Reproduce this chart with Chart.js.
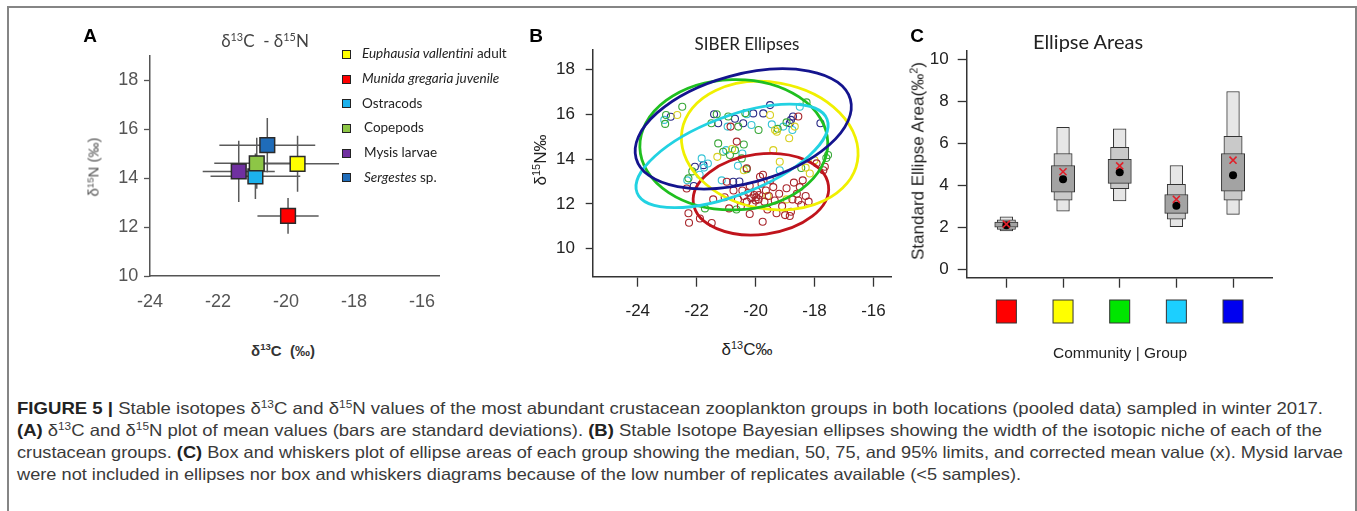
<!DOCTYPE html>
<html lang="en">
<head>
<meta charset="UTF-8">
<title>Figure 5 - stable isotopes of crustacean zooplankton</title>
<script src="https://cdn.jsdelivr.net/npm/chart.js"></script>
<style>
  html, body { margin: 0; padding: 0; background: #fff; }
  body { width: 1357px; height: 511px; overflow: hidden; position: relative; font-family: "Liberation Sans", Arial, sans-serif; }
  .frame { position: absolute; left: 7px; top: 6px; width: 1350px; height: 530px; box-sizing: border-box; border: 2px solid #858585; }
  canvas { position: absolute; }
  .t { position: absolute; white-space: nowrap; line-height: 1; }
  .c { transform: translate(-50%, -50%); }
  .rot { transform: translate(-50%, -50%) rotate(-90deg); }
  .panel { font-weight: bold; font-size: 19px; color: #000; }
  .cal { font-family: Lato, "Open Sans", sans-serif; }
  sup { font-size: 0.64em; vertical-align: 0.55em; line-height: 0; }
  .legend-sq { position: absolute; width: 7px; height: 7px; border: 1px solid #222; }
  .cap { position: absolute; left: 17px; font-size: 16.5px; color: #3a3a3a; white-space: nowrap; line-height: 1; transform-origin: 0 50%; }
  .cap b { color: #222; }
</style>
</head>
<body>
<div class="frame"></div>

<canvas id="chartA" width="470" height="330" style="left:0;top:0"></canvas>
<canvas id="chartB" width="390" height="330" style="left:520px;top:0"></canvas>
<canvas id="chartC" width="400" height="340" style="left:900px;top:0"></canvas>

<!-- panel A labels -->
<div class="t c panel" style="left:90px;top:35px">A</div>
<div class="t c cal" style="left:265px;top:40px;font-size:17px;color:#444">δ<sup>13</sup>C &nbsp;- δ<sup>15</sup>N</div>
<div class="t rot" style="left:93px;top:167px;font-size:15px;color:#555">δ<sup>15</sup>N (‰)</div>
<div class="t c" style="left:283px;top:350px;font-size:15px;color:#333;font-weight:bold">δ<sup>13</sup>C &nbsp;(‰)</div>
<div id="legendA"></div>

<!-- panel B labels -->
<div class="t c panel" style="left:536px;top:35px">B</div>
<div class="t c cal" style="left:747px;top:43px;font-size:17px;color:#222">SIBER Ellipses</div>
<div class="t rot" style="left:540px;top:160px;font-size:17px;color:#222">δ<sup>15</sup>N‰</div>
<div class="t c" style="left:747px;top:349px;font-size:17px;color:#222">δ<sup>13</sup>C‰</div>

<!-- panel C labels -->
<div class="t c panel" style="left:917px;top:35px">C</div>
<div class="t c cal" style="left:1088px;top:41px;font-size:20px;color:#222">Ellipse Areas</div>
<div class="t rot" style="left:918px;top:161px;font-size:17px;color:#222">Standard Ellipse Area(‰<sup>2</sup>)</div>
<div class="t c" style="left:1120px;top:353px;font-size:15.5px;color:#222">Community | Group</div>

<!-- caption -->
<div class="cap" data-w="1306" style="top:400px"><b>FIGURE 5 |</b> Stable isotopes δ<sup>13</sup>C and δ<sup>15</sup>N values of the most abundant crustacean zooplankton groups in both locations (pooled data) sampled in winter 2017.</div>
<div class="cap" data-w="1305" style="top:422px"><b>(A)</b> δ<sup>13</sup>C and δ<sup>15</sup>N plot of mean values (bars are standard deviations). <b>(B)</b> Stable Isotope Bayesian ellipses showing the width of the isotopic niche of each of the</div>
<div class="cap" data-w="1326" style="top:444px">crustacean groups. <b>(C)</b> Box and whiskers plot of ellipse areas of each group showing the median, 50, 75, and 95% limits, and corrected mean value (x). Mysid larvae</div>
<div class="cap" data-w="1004" style="top:466px">were not included in ellipses nor box and whiskers diagrams because of the low number of replicates available (&lt;5 samples).</div>

<script>
// ---- panel A: group means with standard deviations ----
const groupsA = ['<i>Euphausia vallentini</i> adult', '<i>Munida gregaria juvenile</i>', 'Ostracods', 'Copepods', 'Mysis larvae', '<i>Sergestes</i> sp.'];
const colorsA = ['#ffff00', '#ff0000', '#1cb1ec', '#8dc646', '#7030a0', '#1f6cb9'];
const meanC13 = [-19.66, -19.94, -20.90, -20.86, -21.39, -20.55];
const meanN15 = [14.58, 12.45, 14.07, 14.60, 14.27, 15.34];
const sdC13 = [1.22, 0.90, 1.32, 1.25, 1.06, 1.41];
const sdN15 = [1.14, 0.73, 0.93, 1.04, 1.25, 1.11];
const ticksAx = [-24, -22, -20, -18, -16];
const ticksAy = [10, 12, 14, 16, 18];

// ---- panel B: raw samples and SIBER standard ellipses ----
const ptsMunida = [[-22.34,12.69],[-22.28,11.58],[-22.26,11.16],[-21.89,11.35],[-21.49,11.15],[-21.44,12.2],[-21.05,12.3],[-20.98,12.99],
  [-20.85,15.45],[-20.64,14.78],[-20.3,13.59],[-20.75,12.6],[-20.6,12.2],[-20.5,11.9],[-20.45,12.6],[-20.4,12.35],[-20.3,12.1],
  [-20.25,12.5],[-20.2,12.8],[-20.15,12.25],[-20.1,12.0],[-20.05,12.4],[-20.0,12.15],[-19.98,12.3],[-19.95,12.55],[-19.9,12.2],
  [-19.88,12.4],[-19.85,13.21],[-19.8,12.9],[-19.75,13.3],[-19.76,11.2],[-19.7,12.1],[-19.65,12.6],[-19.6,11.75],[-19.55,12.35],
  [-19.5,13.05],[-19.4,12.75],[-19.35,12.15],[-19.29,11.58],[-19.2,12.45],[-19.1,11.9],[-19.0,11.5],[-18.95,12.7],[-18.84,11.46],
  [-18.8,11.65],[-18.75,12.2],[-18.7,12.95],[-18.6,12.45],[-18.55,12.15],[-18.5,12.75],[-18.45,11.95],[-18.4,13.05],[-18.3,12.35],
  [-18.2,12.1],[-18.55,15.9],[-17.93,13.81],[-17.65,13.66],[-17.7,13.5],[-20.2,11.55],[-20.9,11.8]];
const ptsEuphausia = [[-22.66,15.97],[-21.3,14.1],[-19.51,15.97],[-19.34,15.3],[-19.28,15.22],[-18.67,15.45],[-18.86,14.93],[-19.4,14.4],
  [-19.18,13.88],[-18.16,13.36],[-18.3,13.62],[-18.0,13.95],[-20.4,13.5],[-19.6,12.35],[-20.8,14.45],[-18.95,12.2]];
const ptsCopepods = [[-23.07,15.57],[-23.04,15.97],[-22.49,16.34],[-21.5,15.6],[-21.32,16.0],[-20.93,15.9],[-20.59,15.45],[-20.35,16.05],
  [-21.27,14.7],[-21.1,14.33],[-20.87,14.18],[-20.7,14.4],[-20.47,14.03],[-20.4,14.65],[-22.28,13.14],[-22.15,13.45],[-21.72,11.8],
  [-20.65,11.75],[-18.95,15.64],[-18.27,16.53],[-19.25,15.35],[-17.54,14.18],[-17.6,14.05],[-18.45,13.6],[-20.3,13.55],[-19.9,15.3]];
const ptsOstracods = [[-23.1,15.75],[-21.83,14.03],[-21.75,13.62],[-21.62,13.8],[-22.32,13.05],[-21.9,13.3],[-21.0,14.4],[-20.95,15.45],
  [-20.14,15.52],[-20.3,16.0],[-19.06,15.45],[-18.5,16.34],[-19.18,13.5],[-21.15,13.05],[-20.45,14.25],[-19.45,15.55],[-18.75,15.3],[-20.6,13.7]];
const ptsSergestes = [[-22.88,15.89],[-21.41,16.0],[-21.27,15.6],[-20.42,15.6],[-20.08,16.04],[-19.74,16.04],[-19.51,16.41],[-18.84,15.6],
  [-18.73,15.9],[-18.8,15.75],[-17.8,15.6],[-21.77,13.73],[-22.06,13.66],[-20.76,12.99],[-20.55,13.0],[-22.1,12.8],[-20.7,15.8]];
const pointColorsB = ['#a8262c', '#d8d020', '#3aa83a', '#36c4d6', '#2a2a86'];
// ellipse order: Munida, Euphausia, Copepods, Ostracods, Sergestes
const ellColors = ['#c0141c', '#f0f000', '#1fbf1f', '#22d2e2', '#14148e'];
const ellMeanC = [-19.82, -19.52, -20.74, -20.80, -20.42];
const ellMeanN = [12.43, 14.60, 14.64, 14.14, 15.35];
const ellSdC = [2.30, 3.00, 3.19, 3.26, 3.67];
const ellSdN = [1.82, 2.87, 2.91, 2.31, 2.68];
const ellRho = [0.14, -0.12, 0.02, 0.60, 0.37];
const ticksBx = [-24, -22, -20, -18, -16];
const ticksBy = [10, 12, 14, 16, 18];

// ---- panel C: posterior ellipse areas (SEA.B) per group ----
const colorsC = ['#ff0000', '#ffff00', '#00e600', '#1ccfff', '#0000f0'];
const p95Lo = [1.82, 2.77, 3.25, 2.03, 2.61];
const p95Hi = [2.50, 6.75, 6.68, 4.94, 8.46];
const p75Lo = [1.90, 3.29, 3.83, 2.39, 3.29];
const p75Hi = [2.35, 5.51, 5.80, 4.04, 6.33];
const p50Lo = [2.00, 3.67, 4.09, 2.66, 3.72];
const p50Hi = [2.25, 4.94, 5.23, 3.56, 5.51];
const medianSEA = [2.10, 4.28, 4.62, 3.02, 4.47];
const meanSEAc = [2.15, 4.64, 4.92, 3.33, 5.19];
const ticksCy = [0, 2, 4, 6, 8, 10];
const ticksCx = [1, 2, 3, 4, 5];

Chart.defaults.font.family = '"Liberation Sans", Arial, sans-serif';

// padding so that the plot area lands on a given rectangle of the page
function pad(cv, area, axisW, axisH) {
  return { left: area[0] - cv[0] - axisW, top: area[1] - cv[1], right: cv[0] + cv[2] - area[2], bottom: cv[1] + cv[3] - area[3] - axisH };
}

function axisOpts(min, max, tickVals, o) {
  return {
    type: 'linear', min, max, offset: false,
    afterBuildTicks: s => { s.ticks = tickVals.map(v => ({ value: v })); },
    afterFit: s => { if (s.isHorizontal()) s.height = 40; else s.width = 40; },
    grid: { offset: false, drawOnChartArea: false, drawTicks: o.tick > 0, tickLength: o.tick, tickColor: o.line, tickWidth: 1.3 },
    border: { display: true, color: o.line, width: 1.5 },
    ticks: { display: o.font > 0, color: o.text, font: { size: o.font || 12 }, padding: o.pad || 0, maxRotation: 0, autoSkip: false }
  };
}

const base = { responsive: false, maintainAspectRatio: false, animation: false, devicePixelRatio: 1,
  plugins: { legend: { display: false }, tooltip: { enabled: false } } };

// ---------- A ----------
const errorBars = {
  id: 'errorBars',
  beforeDatasetsDraw(chart) {
    const { ctx, scales: { x, y } } = chart;
    ctx.save();
    ctx.strokeStyle = '#5a5a5a';
    ctx.lineWidth = 1.5;
    meanC13.forEach((mx, i) => {
      const my = meanN15[i];
      const px = x.getPixelForValue(mx), py = y.getPixelForValue(my);
      ctx.beginPath();
      ctx.moveTo(x.getPixelForValue(mx - sdC13[i]), py);
      ctx.lineTo(x.getPixelForValue(mx + sdC13[i]), py);
      ctx.moveTo(px, y.getPixelForValue(my - sdN15[i]));
      ctx.lineTo(px, y.getPixelForValue(my + sdN15[i]));
      ctx.stroke();
    });
    ctx.restore();
  }
};

new Chart(document.getElementById('chartA'), {
  type: 'scatter',
  data: { datasets: [{
    data: meanC13.map((v, i) => ({ x: v, y: meanN15[i] })),
    pointStyle: 'rect', radius: 10.4, backgroundColor: colorsA, borderColor: '#2a2a2a', borderWidth: 1.5
  }] },
  options: Object.assign({}, base, {
    layout: { padding: pad([0, 0, 470, 330], [150, 55.5, 439, 276], 40, 40) },
    scales: {
      x: axisOpts(-24, -15.5, ticksAx, { tick: 0, line: '#555', text: '#555', font: 18, pad: 15.5 }),
      y: axisOpts(10, 19, ticksAy, { tick: 6, line: '#555', text: '#555', font: 18, pad: 5.7 })
    }
  }),
  plugins: [errorBars]
});

// legend for A
const legendA = document.getElementById('legendA');
groupsA.forEach((name, i) => {
  const cy = 54.3 + i * 24.7;
  legendA.insertAdjacentHTML('beforeend',
    `<div class="legend-sq" style="left:342px;top:${cy - 4.5}px;background:${colorsA[i]}"></div>` +
    `<div class="t cal" style="left:${362 + (i > 2 ? 2 : 0)}px;top:${cy - 7}px;font-size:13.5px;color:#222">${name}</div>`);
});

// ---------- B ----------
const siberEllipses = {
  id: 'siberEllipses',
  afterDatasetsDraw(chart) {
    const { ctx, scales: { x, y } } = chart;
    const kx = x.getPixelForValue(1) - x.getPixelForValue(0);
    const ky = y.getPixelForValue(1) - y.getPixelForValue(0);
    ctx.save();
    ctx.lineWidth = 2.8;
    ellMeanC.forEach((mc, i) => {
      // covariance in pixel space -> principal radii and rotation
      const a = (kx * ellSdC[i]) ** 2, c = (ky * ellSdN[i]) ** 2;
      const b = kx * ky * ellRho[i] * ellSdC[i] * ellSdN[i];
      const mid = (a + c) / 2, dev = Math.sqrt(((a - c) / 2) ** 2 + b * b);
      const ang = 0.5 * Math.atan2(2 * b, a - c);
      ctx.beginPath();
      ctx.ellipse(x.getPixelForValue(mc), y.getPixelForValue(ellMeanN[i]),
        Math.sqrt(mid + dev), Math.sqrt(mid - dev), ang, 0, Math.PI * 2);
      ctx.strokeStyle = ellColors[i];
      ctx.stroke();
    });
    ctx.restore();
  }
};

const toXY = arr => arr.map(p => ({ x: p[0], y: p[1] }));
const samplesB = [ptsMunida, ptsEuphausia, ptsCopepods, ptsOstracods, ptsSergestes];

new Chart(document.getElementById('chartB'), {
  type: 'scatter',
  data: { datasets: samplesB.map((pts, i) => ({
    data: toXY(pts), pointStyle: 'circle', radius: 3.5,
    backgroundColor: 'rgba(0,0,0,0)', borderColor: pointColorsB[i], borderWidth: 1.1
  })) },
  options: Object.assign({}, base, {
    layout: { padding: pad([520, 0, 390, 330], [592.7, 50, 891.7, 276.7], 40, 40) },
    scales: {
      x: axisOpts(-25.53, -15.38, ticksBx, { tick: 10, line: '#333', text: '#222', font: 17, pad: 14.8 }),
      y: axisOpts(8.75, 18.87, ticksBy, { tick: 7, line: '#333', text: '#222', font: 17, pad: 10.7 })
    }
  }),
  plugins: [siberEllipses]
});

// ---------- C ----------
const groupSwatches = {
  id: 'groupSwatches',
  afterDraw(chart) {
    const { ctx, chartArea, scales: { x } } = chart;
    ctx.save();
    ctx.strokeStyle = '#333';
    ctx.lineWidth = 1;
    colorsC.forEach((col, i) => {
      const px = x.getPixelForValue(ticksCx[i]);
      ctx.fillStyle = col;
      ctx.fillRect(px - 10, chartArea.bottom + 22.3, 20, 23);
      ctx.strokeRect(px - 10, chartArea.bottom + 22.3, 20, 23);
    });
    ctx.restore();
  }
};

const boxBand = (lo, hi, width, fill, order) => ({
  type: 'bar', order, grouped: false, barThickness: width, borderSkipped: false,
  backgroundColor: fill, borderColor: '#333', borderWidth: 1,
  data: lo.map((v, i) => ({ x: ticksCx[i], y: [v, hi[i]] }))
});

new Chart(document.getElementById('chartC'), {
  type: 'bar',
  data: { datasets: [
    { type: 'scatter', order: 0, data: meanSEAc.map((v, i) => ({ x: ticksCx[i], y: v })),
      pointStyle: 'crossRot', radius: 5, borderColor: '#e0202a', borderWidth: 1.6 },
    { type: 'scatter', order: 1, data: medianSEA.map((v, i) => ({ x: ticksCx[i], y: v })),
      pointStyle: 'circle', radius: 4, backgroundColor: '#000', borderColor: '#000', borderWidth: 0 },
    boxBand(p50Lo, p50Hi, 23.3, '#a3a3a3', 2),
    boxBand(p75Lo, p75Hi, 18.3, '#c9c9c9', 3),
    boxBand(p95Lo, p95Hi, 12.7, '#e6e6e6', 4)
  ] },
  options: Object.assign({}, base, {
    layout: { padding: pad([900, 0, 400, 340], [966.7, 50.7, 1272.7, 277.7], 40, 40) },
    scales: {
      x: axisOpts(0.3, 5.7, ticksCx, { tick: 10, line: '#333', text: '#222', font: 0 }),
      y: axisOpts(-0.4, 10.4, ticksCy, { tick: 9, line: '#333', text: '#222', font: 17, pad: 9 })
    }
  }),
  plugins: [groupSwatches]
});

// caption lines are set to the column width
function fitCaption() {
  document.querySelectorAll('.cap').forEach(el => {
    el.style.transform = 'none';
    const w = el.getBoundingClientRect().width;
    el.style.transform = `scaleX(${(+el.dataset.w / w).toFixed(4)})`;
  });
}
fitCaption();
document.fonts.ready.then(fitCaption);
</script>
</body>
</html>
